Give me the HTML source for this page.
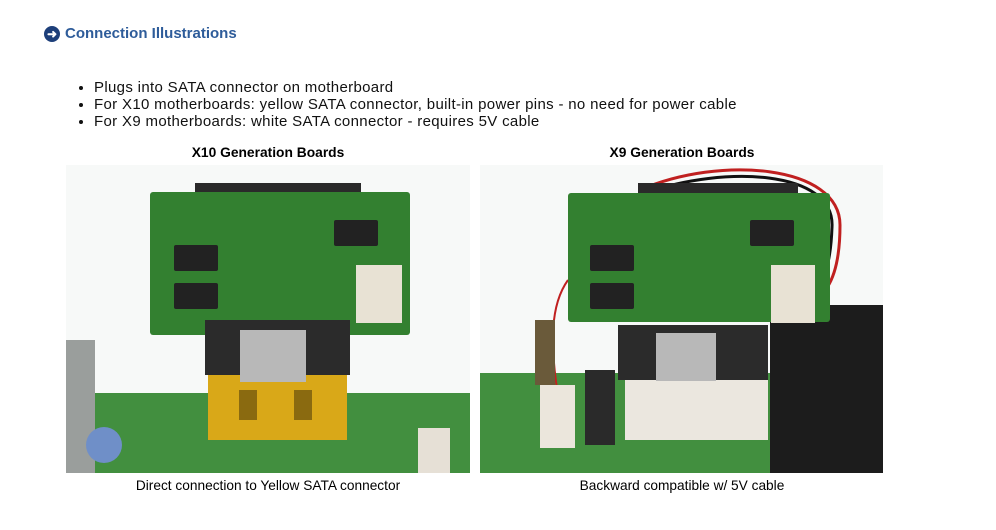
<!DOCTYPE html>
<html><head><meta charset="utf-8"><style>
body{margin:0;width:996px;height:530px;background:#fff;font-family:"Liberation Sans",Arial,sans-serif;position:relative;overflow:hidden}
.a{position:absolute}
.h{left:65px;top:25px;font-size:15px;font-weight:bold;color:#2e5c9a}
ul{position:absolute;left:76px;top:79px;margin:0;padding-left:18px;font-size:15px;letter-spacing:0.33px;line-height:17px;color:#111}
.t{font-size:13.8px;font-weight:bold;color:#000;text-align:center;width:404px}
.c{font-size:13.7px;color:#000;text-align:center;width:404px}
.chip{position:absolute;background:#222;width:36px;height:26px;border-radius:2px}
</style></head><body>
<div class="a" style="left:44px;top:26px;width:16px;height:16px;border-radius:50%;background:#1d3f7a;color:#fff;font-size:12px;line-height:16px;text-align:center;font-weight:bold">➜</div>
<div class="a h">Connection Illustrations</div>
<ul><li>Plugs into SATA connector on motherboard</li><li>For X10 motherboards: yellow SATA connector, built-in power pins - no need for power cable</li><li>For X9 motherboards: white SATA connector - requires 5V cable</li></ul>
<div class="a t" style="left:66px;top:145px">X10 Generation Boards</div>
<div class="a t" style="left:480px;top:145px">X9 Generation Boards</div>

<div class="a" style="left:66px;top:165px;width:404px;height:308px;background:#f7f9f8;overflow:hidden">
 <div class="a" style="left:26px;top:228px;width:378px;height:80px;background:#428f3f"></div>
 <div class="a" style="left:0;top:175px;width:29px;height:133px;background:#9a9e9c"></div>
 <div class="a" style="left:20px;top:262px;width:36px;height:36px;border-radius:50%;background:#6f8fc8"></div>
 <div class="a" style="left:352px;top:263px;width:32px;height:45px;background:#e6e0d6"></div>
 <div class="a" style="left:129px;top:18px;width:166px;height:10px;background:#2a2a2a"></div>
 <div class="a" style="left:84px;top:27px;width:260px;height:143px;background:#338030;border-radius:3px"></div>
 <div class="chip" style="left:108px;top:80px;width:44px"></div>
 <div class="chip" style="left:108px;top:118px;width:44px"></div>
 <div class="chip" style="left:268px;top:55px;width:44px"></div>
 <div class="a" style="left:290px;top:100px;width:46px;height:58px;background:#e8e2d4"></div>
 <div class="a" style="left:142px;top:192px;width:139px;height:83px;background:#d9a818"></div>
 <div class="a" style="left:173px;top:225px;width:18px;height:30px;background:#8a6a10"></div>
 <div class="a" style="left:228px;top:225px;width:18px;height:30px;background:#8a6a10"></div>
 <div class="a" style="left:139px;top:155px;width:145px;height:55px;background:#2b2b2b"></div>
 <div class="a" style="left:174px;top:165px;width:66px;height:52px;background:#b8b8b8"></div>
</div>

<div class="a" style="left:480px;top:165px;width:403px;height:308px;background:#f7f9f8;overflow:hidden">
 <div class="a" style="left:0;top:208px;width:403px;height:100px;background:#428f3f"></div>
 <svg class="a" style="left:0;top:0" width="403" height="308"><path d="M160 25 C240 -10 360 0 360 60 C360 120 340 140 320 135" stroke="#c02020" stroke-width="3" fill="none"/><path d="M165 28 C245 0 355 5 352 62 C350 118 335 132 318 130" stroke="#111" stroke-width="3" fill="none"/><path d="M88 115 C70 140 70 180 78 230" stroke="#c02020" stroke-width="2" fill="none"/></svg>
 <div class="a" style="left:290px;top:140px;width:113px;height:168px;background:#1c1c1c"></div>
 <div class="a" style="left:55px;top:155px;width:20px;height:65px;background:#6a5a3a"></div>
 <div class="a" style="left:105px;top:205px;width:30px;height:75px;background:#2a2a2a"></div>
 <div class="a" style="left:60px;top:220px;width:35px;height:63px;background:#ebe6dc"></div>
 <div class="a" style="left:158px;top:18px;width:160px;height:10px;background:#2a2a2a"></div>
 <div class="a" style="left:88px;top:28px;width:262px;height:129px;background:#338030;border-radius:3px"></div>
 <div class="chip" style="left:110px;top:80px;width:44px"></div>
 <div class="chip" style="left:110px;top:118px;width:44px"></div>
 <div class="chip" style="left:270px;top:55px;width:44px"></div>
 <div class="a" style="left:291px;top:100px;width:44px;height:58px;background:#e8e2d4"></div>
 <div class="a" style="left:145px;top:195px;width:143px;height:80px;background:#ebe7df"></div>
 <div class="a" style="left:138px;top:160px;width:150px;height:55px;background:#2b2b2b"></div>
 <div class="a" style="left:176px;top:168px;width:60px;height:48px;background:#b8b8b8"></div>
</div>

<div class="a c" style="left:66px;top:478px">Direct connection to Yellow SATA connector</div>
<div class="a c" style="left:480px;top:478px">Backward compatible w/ 5V cable</div>
</body></html>
